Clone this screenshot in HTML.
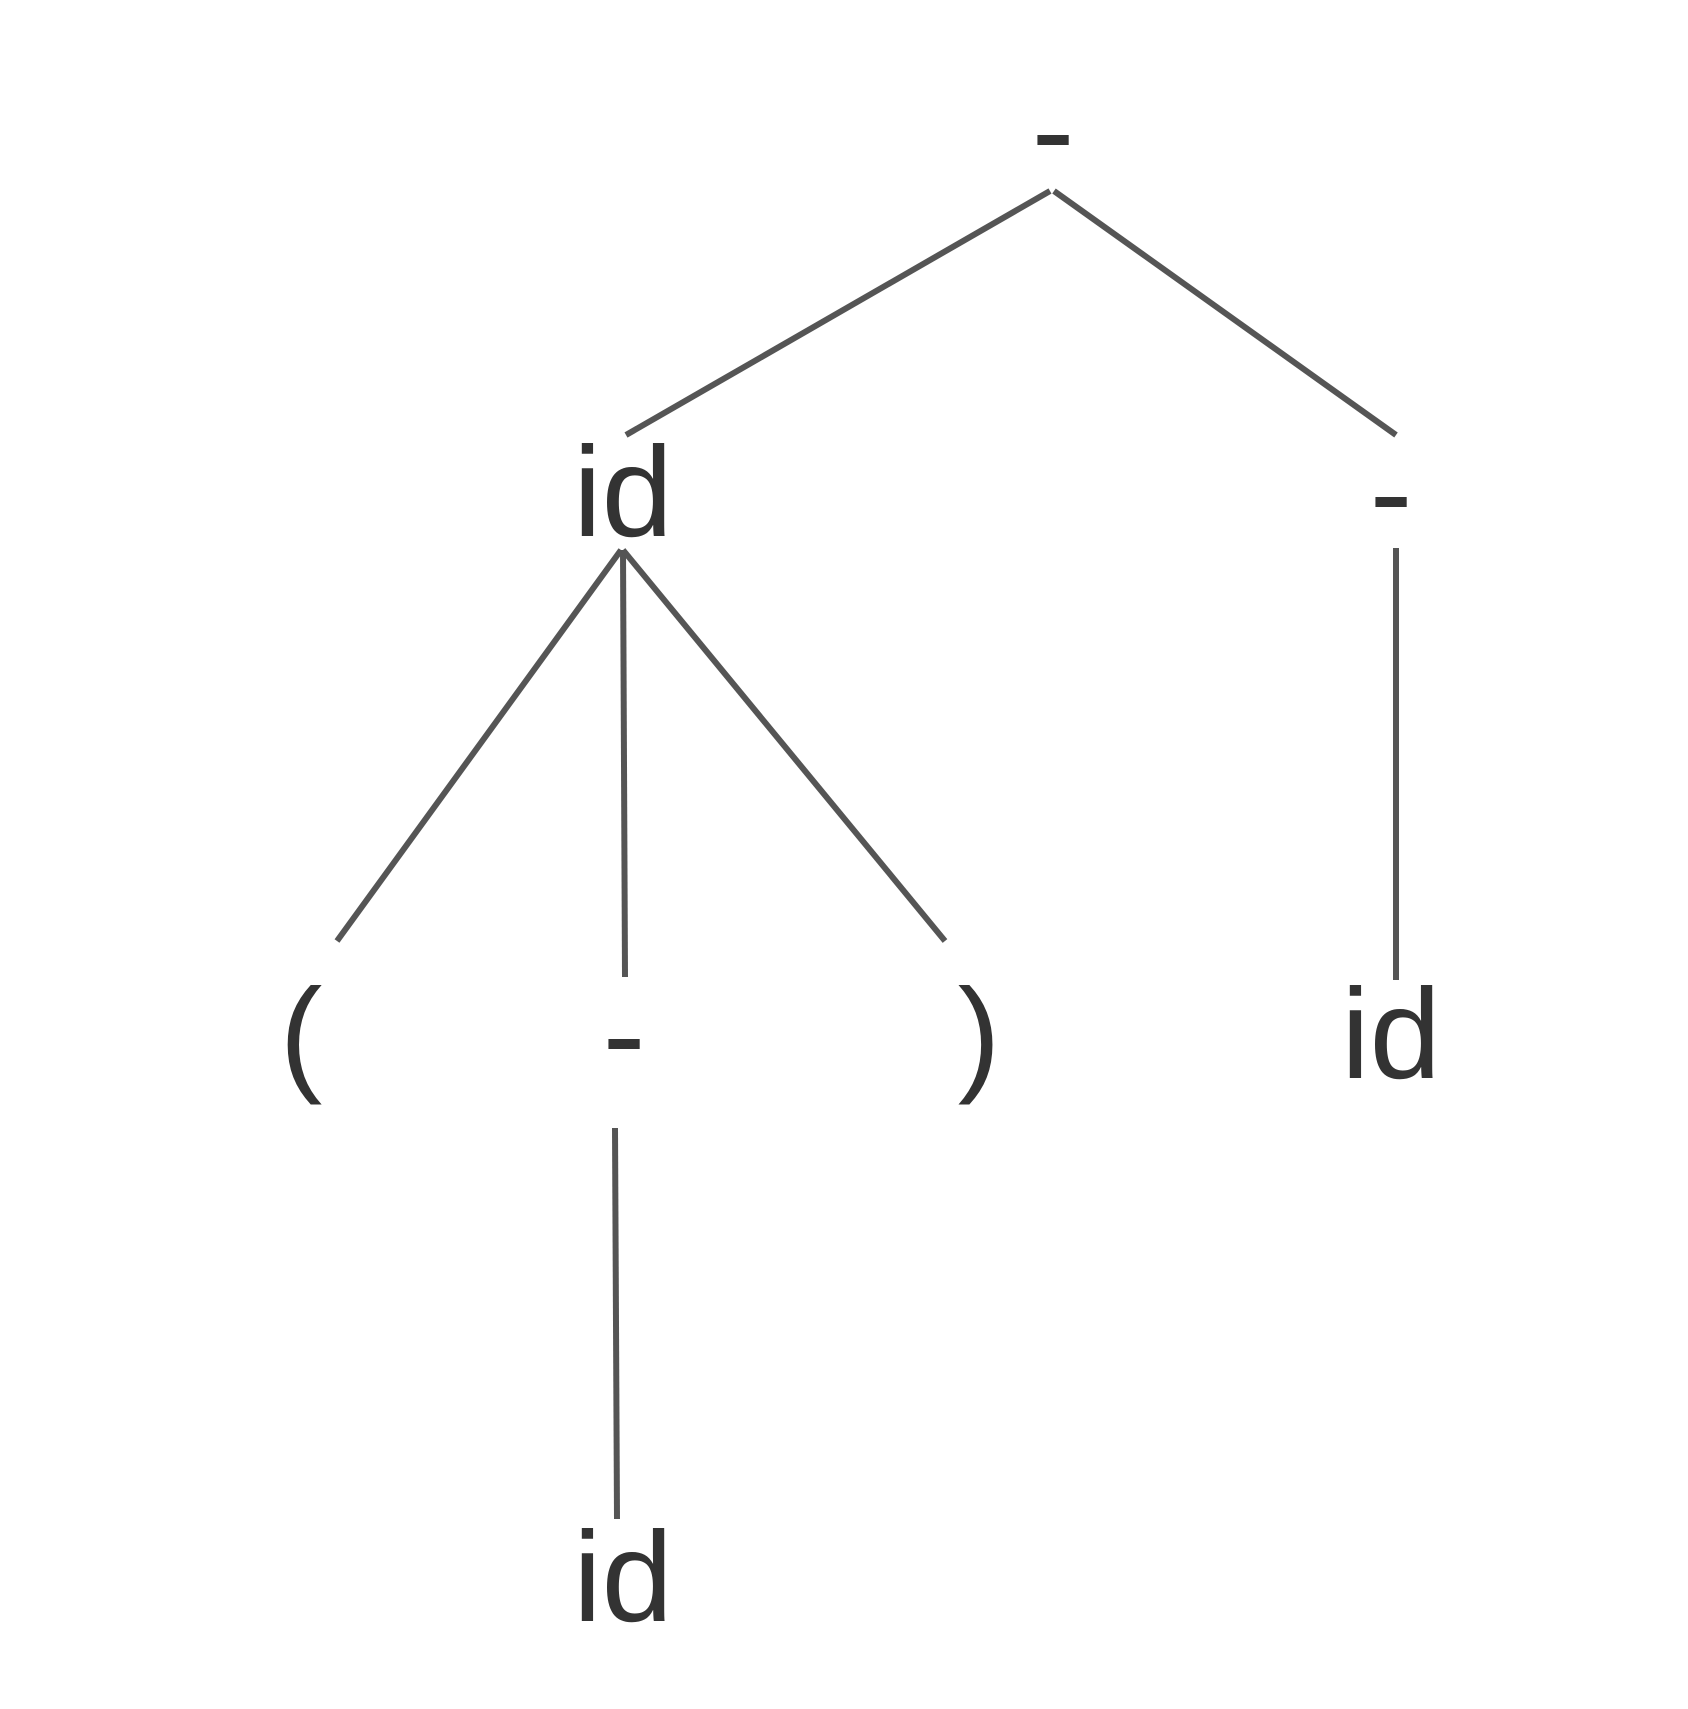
<!DOCTYPE html>
<html><head><meta charset="utf-8"><style>html,body{margin:0;padding:0;background:#fff}</style></head>
<body>
<svg width="1688" height="1704" viewBox="0 0 1688 1704" xmlns="http://www.w3.org/2000/svg">
<g stroke="#555" stroke-width="6" fill="none">
<line x1="1050" y1="191" x2="626" y2="435"/>
<line x1="1054" y1="191" x2="1396" y2="435"/>
<line x1="621" y1="550" x2="337" y2="941"/>
<line x1="623" y1="550" x2="625" y2="977"/>
<line x1="623" y1="550" x2="945" y2="941"/>
<line x1="1396" y1="548" x2="1396" y2="980"/>
<line x1="615" y1="1128" x2="617" y2="1519"/>
</g>
<g font-family="Liberation Sans, Arial, sans-serif" font-size="128" fill="#333" text-anchor="middle">
<text x="1053" y="174">-</text>
<text x="623" y="536">id</text>
<text x="1391" y="536">-</text>
<text x="301" y="1078">(</text>
<text x="624" y="1078">-</text>
<text x="979" y="1078">)</text>
<text x="1391" y="1078">id</text>
<text x="623" y="1621">id</text>
</g>
</svg>
</body></html>
